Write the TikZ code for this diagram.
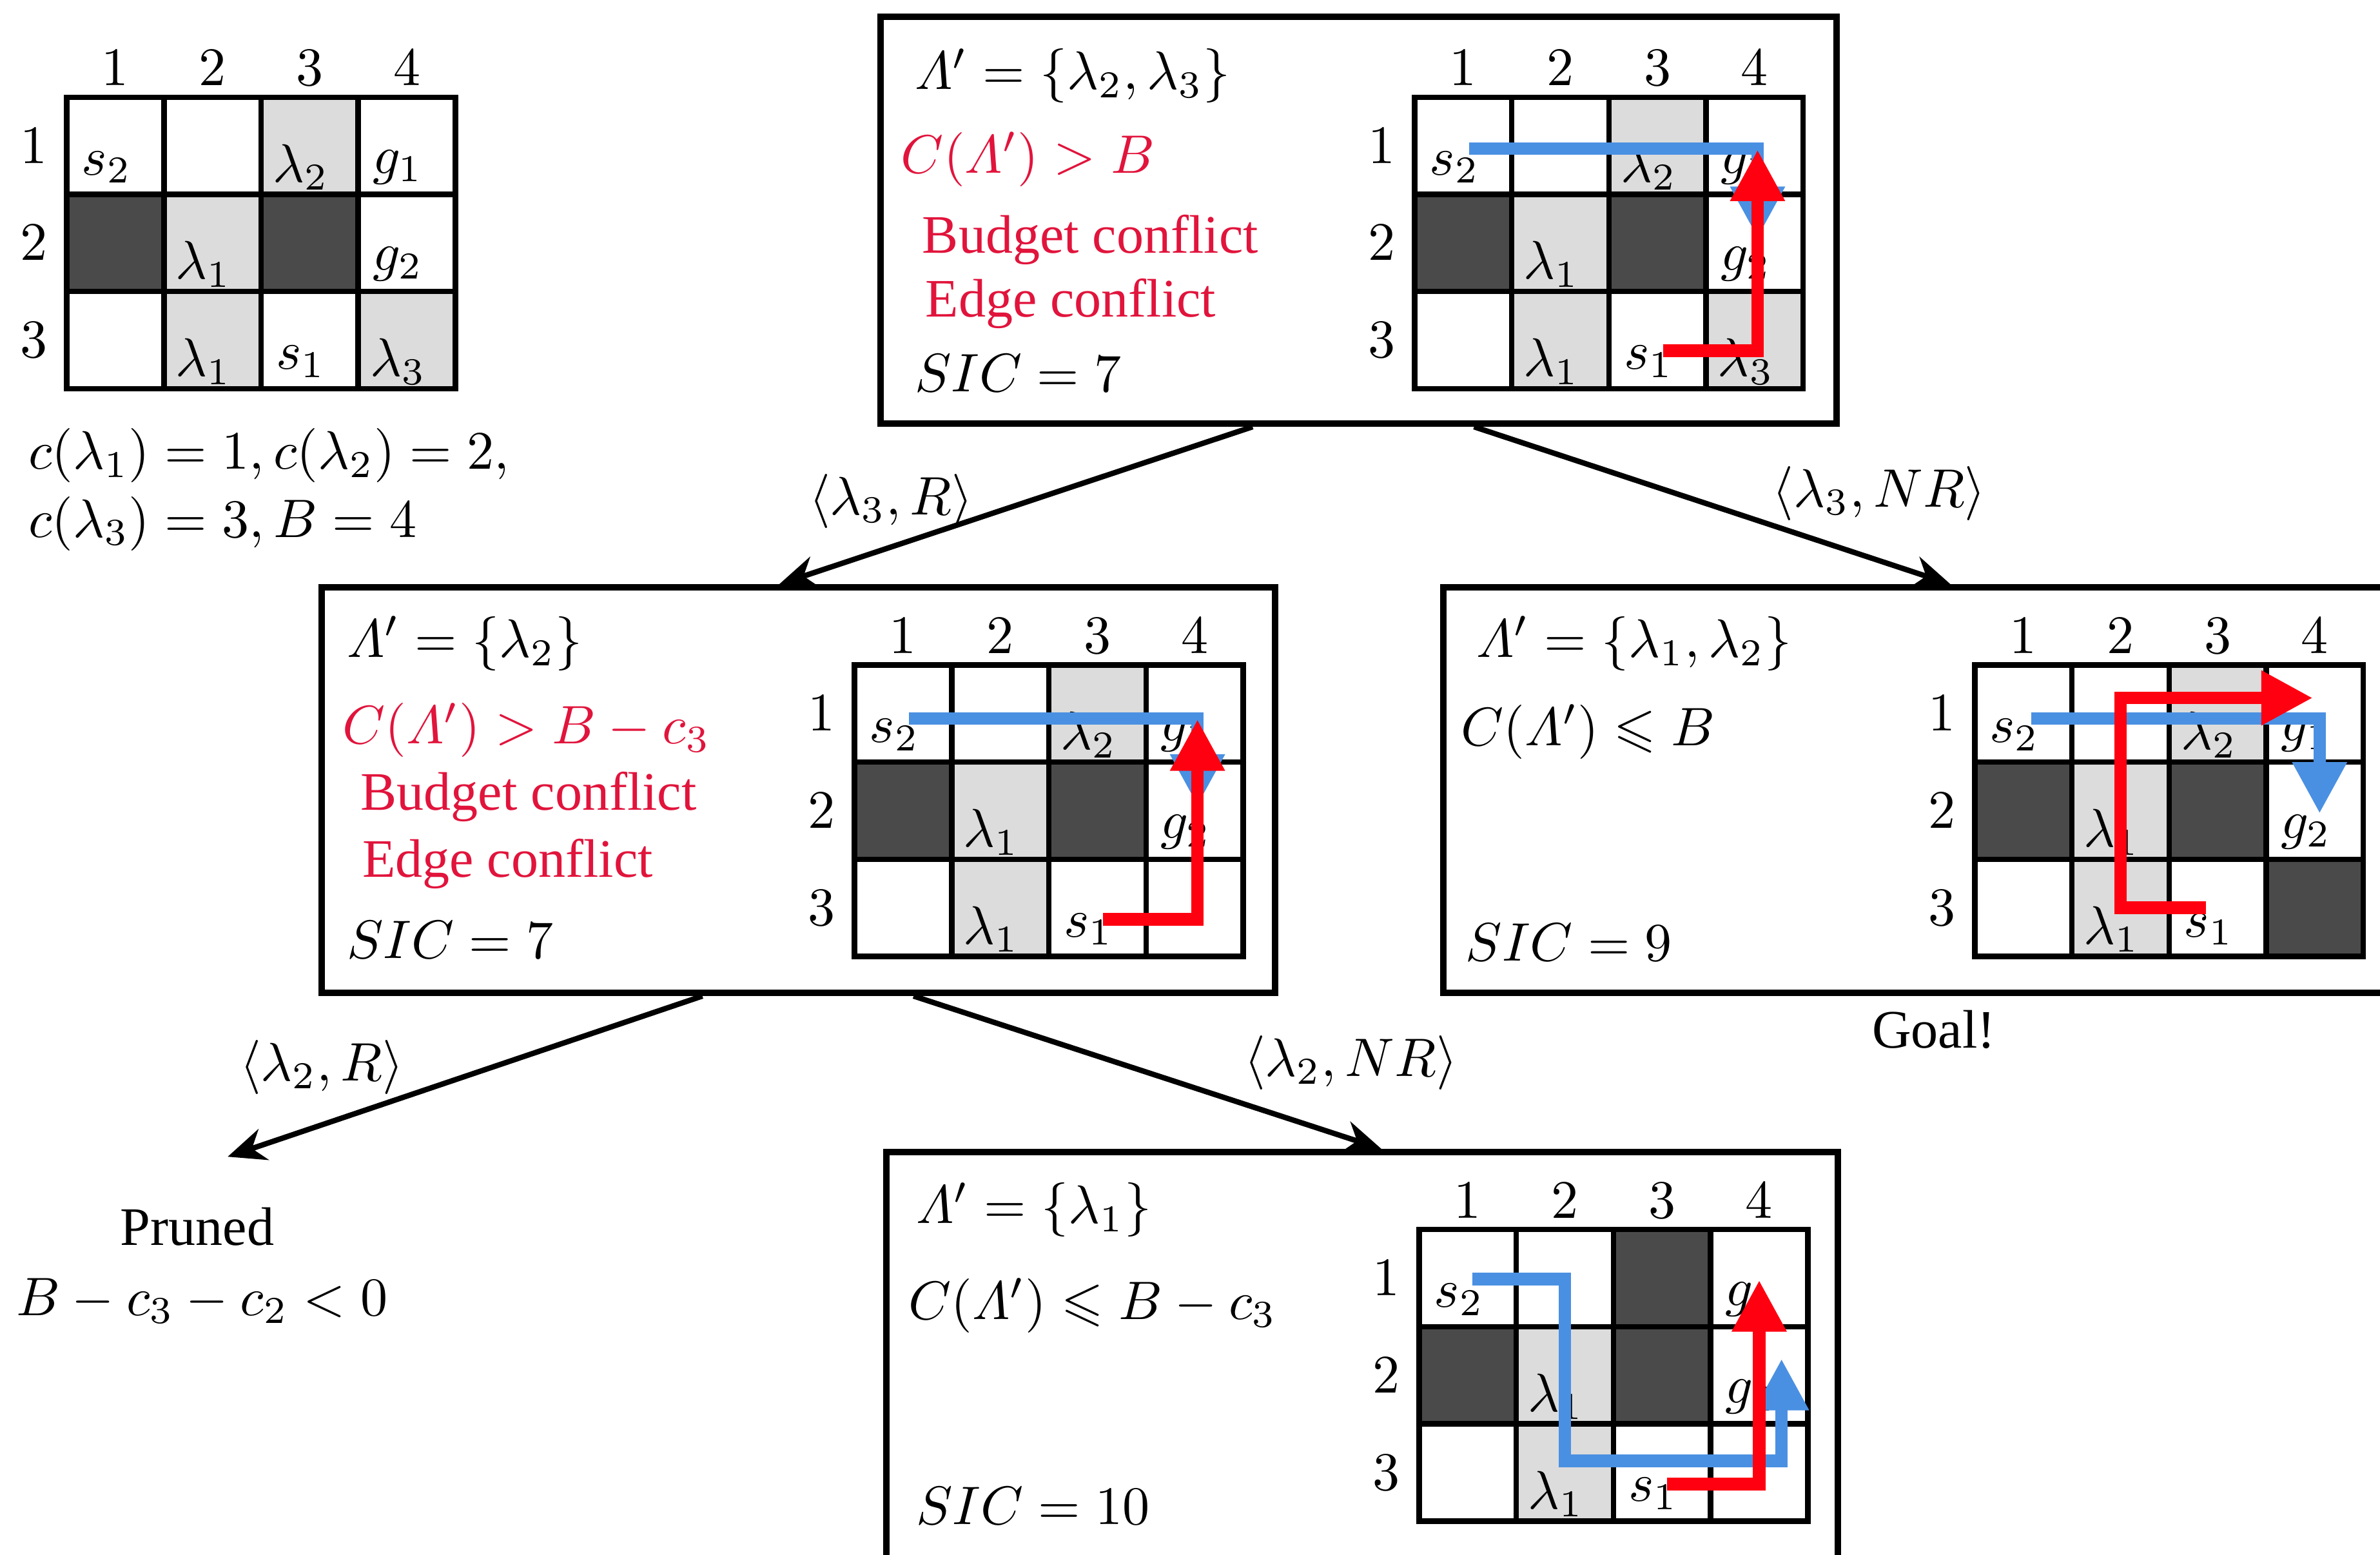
\documentclass[tikz,border=0pt]{standalone}
\usepackage[no-math]{fontspec}
\setmainfont{Liberation Serif}
\usepackage{amsmath,amssymb}
\usetikzlibrary{arrows.meta,calc}

\definecolor{pathblue}{RGB}{74,144,226}
\definecolor{pathred}{RGB}{255,0,16}
\definecolor{textred}{RGB}{225,20,60}
\definecolor{obstacle}{RGB}{74,74,74}
\definecolor{shade}{RGB}{220,220,220}

\tikzset{
  darkcell/.style={fill=obstacle},
  lightcell/.style={fill=shade},
  gridline/.style={line width=1pt},
  celllabel/.style={inner sep=0pt},
  axislabel/.style={inner sep=0pt},
  bluepath/.style={pathblue, line width=2.3pt, -{Triangle[width=9.5pt,length=9.5pt]}},
  redpath/.style={pathred, line width=2.3pt, -{Triangle[width=9.5pt,length=9.5pt]}},
  treebox/.style={draw, line width=1.2pt, inner sep=0pt},
  treeedge/.style={line width=1pt, -{Stealth[length=7pt,width=6pt]}},
  boxtext/.style={anchor=west, inner sep=0pt},
  alert/.style={boxtext, text=textred},
}

% grid map: origin, dark cells, shaded cells, cell labels, paths
\newcommand{\mapgrid}[5]{%
  \begin{scope}[shift={#1}, x=17.92pt, y=-17.92pt]
    \foreach \c/\r in {#2} \fill[darkcell] (\c-1,\r-1) rectangle (\c,\r);
    \foreach \c/\r in {#3} \fill[lightcell] (\c-1,\r-1) rectangle (\c,\r);
    \foreach \c in {1,2,3} \draw[gridline] (\c,0) -- (\c,3);
    \foreach \r in {1,2} \draw[gridline] (0,\r) -- (4,\r);
    \draw[gridline] (0,0) rectangle (4,3);
    \foreach \c in {1,...,4} \node[axislabel] at (\c-0.5,-0.3) {$\c$};
    \foreach \r in {1,2,3} \node[axislabel] at (-0.34,\r-0.5) {$\r$};
    \foreach \c/\r/\t in {#4} \node[celllabel] at (\c-0.59,\r-0.28) {$\t$};
    #5
  \end{scope}}

\begin{document}
\begin{tikzpicture}[x=0.28pt, y=-0.28pt]
  \useasboundingbox (0,0) rectangle (1568,1024);
  \clip (0,0) rectangle (1568,1024);

  % instance
  \mapgrid{(44,64)}{1/2,3/2}{3/1,2/2,2/3,4/3}
    {1/1/s_2, 3/1/\lambda_2, 4/1/g_1, 2/2/\lambda_1, 4/2/g_2, 2/3/\lambda_1, 3/3/s_1, 4/3/\lambda_3}{}
  \node[boxtext] (cost1) at (18,300) {$c(\lambda_1) = 1, c(\lambda_2) = 2,$};
  \node[boxtext] (cost2) at (18,345) {$c(\lambda_3) = 3, B = 4$};

  % root
  \node[treebox, minimum width=630*0.28pt, minimum height=268*0.28pt] (root) at (895,145) {};
  \node[boxtext] (rootset) at (602,50) {$\varLambda' = \{\lambda_2, \lambda_3\}$};
  \node[alert] (rootcost) at (593,105) {$C(\varLambda') > B$};
  \node[alert] (rootbudget) at (607,158) {Budget conflict};
  \node[alert] (rootedge) at (609,200) {Edge conflict};
  \node[boxtext] (rootsic) at (602,246) {$SIC = 7$};
  \mapgrid{(932,64)}{1/2,3/2}{3/1,2/2,2/3,4/3}
    {1/1/s_2, 3/1/\lambda_2, 4/1/g_1, 2/2/\lambda_1, 4/2/g_2, 2/3/\lambda_1, 3/3/s_1, 4/3/\lambda_3}
    {\draw[bluepath] (0.56,0.53) -- (3.53,0.53) -- (3.53,1.45);
     \draw[redpath] (2.56,2.61) -- (3.53,2.61) -- (3.53,0.54);}

  % left child
  \node[treebox, minimum width=628*0.28pt, minimum height=267*0.28pt] (left) at (526,520.5) {};
  \node[boxtext] (leftset) at (228,424) {$\varLambda' = \{\lambda_2\}$};
  \node[alert] (leftcost) at (225,481) {$C(\varLambda') > B - c_3$};
  \node[alert] (leftbudget) at (237,525) {Budget conflict};
  \node[alert] (leftedge) at (238,569) {Edge conflict};
  \node[boxtext] (leftsic) at (228,619) {$SIC = 7$};
  \mapgrid{(563,438)}{1/2,3/2}{3/1,2/2,2/3}
    {1/1/s_2, 3/1/\lambda_2, 4/1/g_1, 2/2/\lambda_1, 4/2/g_2, 2/3/\lambda_1, 3/3/s_1}
    {\draw[bluepath] (0.56,0.55) -- (3.53,0.55) -- (3.53,1.45);
     \draw[redpath] (2.56,2.62) -- (3.53,2.62) -- (3.53,0.56);}

  % right child
  \node[treebox, minimum width=630*0.28pt, minimum height=267*0.28pt] (right) at (1266,520.5) {};
  \node[boxtext] (rightset) at (972,424) {$\varLambda' = \{\lambda_1, \lambda_2\}$};
  \node[boxtext] (rightcost) at (962,482) {$C(\varLambda') \leqslant B$};
  \node[boxtext] (rightsic) at (965,621) {$SIC = 9$};
  \node (goal) at (1274,678) {Goal!};
  \mapgrid{(1301,438)}{1/2,3/2,4/3}{3/1,2/2,2/3}
    {1/1/s_2, 3/1/\lambda_2, 4/1/g_1, 2/2/\lambda_1, 4/2/g_2, 2/3/\lambda_1, 3/3/s_1}
    {\draw[bluepath] (0.58,0.55) -- (3.55,0.55) -- (3.55,1.53);
     \draw[redpath] (2.38,2.5) -- (1.5,2.5) -- (1.5,0.34) -- (3.48,0.34);}

  % pruned branch
  \node (pruned) at (130,808) {Pruned};
  \node[boxtext] (prunecond) at (10,857) {$B - c_3 - c_2 < 0$};
  \coordinate (prunetip) at (150,762);

  % bottom child
  \node[treebox, minimum width=627*0.28pt, minimum height=281*0.28pt] (bottom) at (897.5,899.5) {};
  \node[boxtext] (bottomset) at (603,797) {$\varLambda' = \{\lambda_1\}$};
  \node[boxtext] (bottomcost) at (598,860) {$C(\varLambda') \leqslant B - c_3$};
  \node[boxtext] (bottomsic) at (603,992) {$SIC = 10$};
  \mapgrid{(935,810)}{3/1,1/2,3/2}{2/2,2/3}
    {1/1/s_2, 4/1/g_1, 2/2/\lambda_1, 4/2/g_2, 2/3/\lambda_1, 3/3/s_1}
    {\draw[bluepath] (0.55,0.51) -- (1.5,0.51) -- (1.5,2.38) -- (3.73,2.38) -- (3.73,1.33);
     \draw[redpath] (2.55,2.62) -- (3.5,2.62) -- (3.5,0.52);}

  % tree edges
  \draw[treeedge] ($(root.south west)!0.39!(root.south east)$) -- ($(left.north west)!0.48!(left.north east)$);
  \draw[treeedge] ($(root.south west)!0.62!(root.south east)$) -- ($(right.north west)!0.53!(right.north east)$);
  \draw[treeedge] ($(left.south west)!0.40!(left.south east)$) -- (prunetip);
  \draw[treeedge] ($(left.south west)!0.62!(left.south east)$) -- ($(bottom.north west)!0.52!(bottom.north east)$);
  \node (lab3R) at (587,330) {$\langle \lambda_3, R\rangle$};
  \node (lab3NR) at (1238,325) {$\langle \lambda_3, NR\rangle$};
  \node (lab2R) at (212,703) {$\langle \lambda_2, R\rangle$};
  \node (lab2NR) at (890,700) {$\langle \lambda_2, NR\rangle$};
\end{tikzpicture}
\end{document}
